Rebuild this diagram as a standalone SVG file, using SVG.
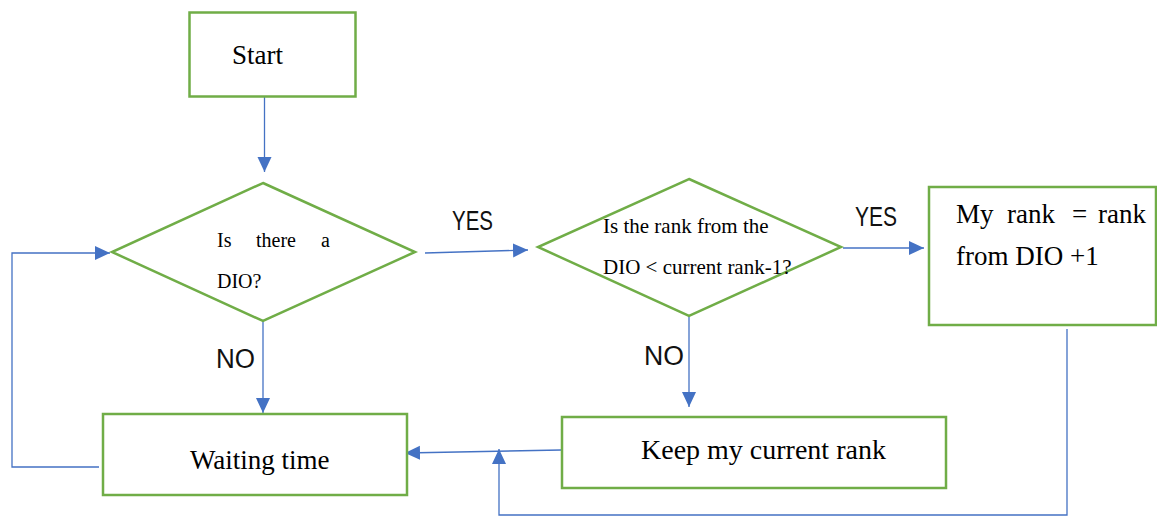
<svg xmlns="http://www.w3.org/2000/svg" width="1157" height="516" viewBox="0 0 1157 516">
  <style>
    .box { fill: #ffffff; stroke: #70AD47; stroke-width: 2.5; }
    .flow { fill: none; stroke: #4472C4; stroke-width: 1.3; }
    .serif { font-family: "Liberation Serif", "Times New Roman", serif; fill: #000000; }
    .label { font-family: "Liberation Sans", Arial, sans-serif; font-size: 27px; fill: #111111; }
  </style>
  <defs>
    <marker id="arrow" markerUnits="userSpaceOnUse" markerWidth="16" markerHeight="16" refX="15" refY="7" orient="auto">
      <path d="M0,0 L15,7 L0,14 z" fill="#4472C4"/>
    </marker>
  </defs>

  <rect width="1157" height="516" fill="#ffffff"/>

  <!-- connectors -->
  <g id="connectors">
    <line class="flow" x1="264.5" y1="97" x2="264.5" y2="172" marker-end="url(#arrow)"/>
    <line class="flow" x1="425" y1="253" x2="528" y2="250" marker-end="url(#arrow)"/>
    <line class="flow" x1="843" y1="248" x2="924" y2="248" marker-end="url(#arrow)"/>
    <line class="flow" x1="263" y1="321" x2="263" y2="413" marker-end="url(#arrow)"/>
    <polyline class="flow" points="99,467 12,467 12,253 110,253" marker-end="url(#arrow)"/>
    <line class="flow" x1="689" y1="316" x2="689" y2="407" marker-end="url(#arrow)"/>
    <line class="flow" x1="561" y1="450" x2="405" y2="453" marker-end="url(#arrow)"/>
    <polyline class="flow" points="1067,329 1067,515 499,515 499,449" marker-end="url(#arrow)"/>

    <text class="label" x="452" y="230" textLength="41" lengthAdjust="spacingAndGlyphs">YES</text>
    <text class="label" x="855" y="226" textLength="42" lengthAdjust="spacingAndGlyphs">YES</text>
    <text class="label" x="216" y="368" textLength="39" lengthAdjust="spacingAndGlyphs">NO</text>
    <text class="label" x="644" y="365" textLength="40" lengthAdjust="spacingAndGlyphs">NO</text>
  </g>

  <!-- start -->
  <g id="start">
    <rect class="box" x="189.5" y="12.5" width="166" height="84"/>
    <text class="serif" x="232" y="64" font-size="27">Start</text>
  </g>

  <!-- decision: DIO present -->
  <g id="has-dio">
    <polygon class="box" points="263,183 415,252 263,321 112,252"/>
    <text class="serif" font-size="20" y="247">
      <tspan x="217">Is</tspan><tspan x="256">there</tspan><tspan x="321">a</tspan>
    </text>
    <text class="serif" font-size="20" x="217" y="288">DIO?</text>
  </g>

  <!-- decision: rank comparison -->
  <g id="rank-check">
    <polygon class="box" points="689,179 841,247 689,316 538,247"/>
    <text class="serif" font-size="21" x="603" y="233">Is the rank from the</text>
    <text class="serif" font-size="21" x="603" y="274">DIO &lt; current rank-1?</text>
  </g>

  <!-- update rank -->
  <g id="update-rank">
    <rect class="box" x="929" y="187" width="227" height="138"/>
    <text class="serif" font-size="27" y="223">
      <tspan x="956">My</tspan><tspan x="1007">rank</tspan><tspan x="1072">=</tspan><tspan x="1098">rank</tspan>
    </text>
    <text class="serif" font-size="27" x="956" y="265">from DIO +1</text>
  </g>

  <!-- waiting -->
  <g id="waiting">
    <rect class="box" x="103" y="414" width="304" height="81"/>
    <text class="serif" font-size="27" x="190" y="469">Waiting time</text>
  </g>

  <!-- keep rank -->
  <g id="keep-rank">
    <rect class="box" x="562" y="417" width="384" height="71"/>
    <text class="serif" font-size="28" x="641" y="459">Keep my current rank</text>
  </g>
</svg>
